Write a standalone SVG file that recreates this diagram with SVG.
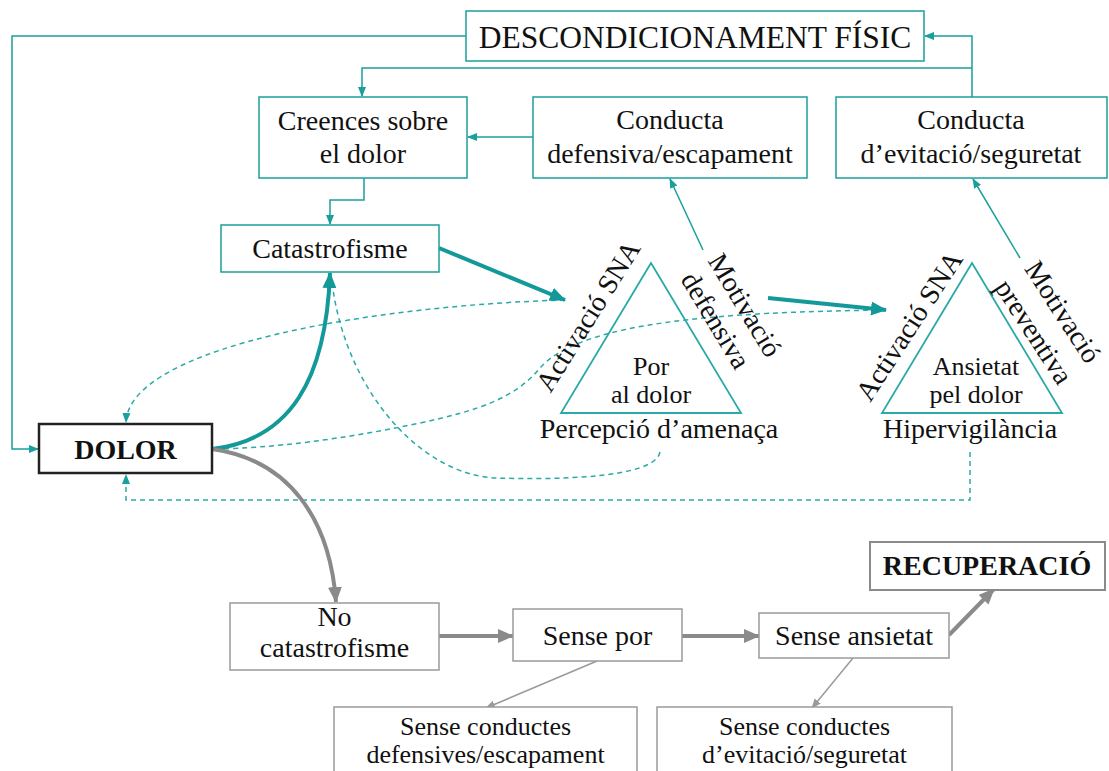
<svg xmlns="http://www.w3.org/2000/svg" width="1109" height="771" viewBox="0 0 1109 771">
<defs>
<style>
text{font-family:"Liberation Serif","Times New Roman",serif;font-size:28px;fill:#111;}
.c{text-anchor:middle;}
.b{font-weight:bold;}
.s{font-size:26px;}
.tbox{fill:#fff;stroke:#1aa09c;stroke-width:1.5;}
.gbox{fill:#fff;stroke:#9a9a9a;stroke-width:1.5;}
.tri{fill:none;stroke:#2aaaa6;stroke-width:1.8;}
.tl{fill:none;stroke:#1aa09c;stroke-width:1.5;}
.tk{fill:none;stroke:#13999a;stroke-width:4;}
.td{fill:none;stroke:#2aaaa6;stroke-width:1.5;stroke-dasharray:5 4;}
.gk{fill:none;stroke:#8a8a8a;stroke-width:4;}
.gl{fill:none;stroke:#9a9a9a;stroke-width:1.5;}
</style>
<marker id="ts" markerWidth="10" markerHeight="10" refX="9" refY="5" orient="auto" markerUnits="userSpaceOnUse"><path d="M0,1 L10,5 L0,9 z" fill="#1aa09c"/></marker>
<marker id="tb" markerWidth="16" markerHeight="14" refX="15" refY="7" orient="auto" markerUnits="userSpaceOnUse"><path d="M0,0 L16,7 L0,14 z" fill="#13999a"/></marker>
<marker id="gb" markerWidth="16" markerHeight="14" refX="15" refY="7" orient="auto" markerUnits="userSpaceOnUse"><path d="M0,0 L16,7 L0,14 z" fill="#8a8a8a"/></marker>
<marker id="gs" markerWidth="10" markerHeight="10" refX="9" refY="5" orient="auto" markerUnits="userSpaceOnUse"><path d="M0,1 L10,5 L0,9 z" fill="#9a9a9a"/></marker>
</defs>
<rect width="1109" height="771" fill="#fff"/>

<g id="connectors">
<path class="tl" d="M466,36 H12 V449 H38" marker-end="url(#ts)"/>
<path class="tl" d="M972,97 V36 H925" marker-end="url(#ts)"/>
<path class="tl" d="M972,68 H362 V96" marker-end="url(#ts)"/>
<path class="tl" d="M533,137 H468" marker-end="url(#ts)"/>
<path class="tl" d="M364,178 V200 H330 V224" marker-end="url(#ts)"/>
<path class="tl" d="M703,250 L670,179" marker-end="url(#ts)"/>
<path class="tl" d="M1020,258 L973,179" marker-end="url(#ts)"/>
<path class="td" d="M565,300 C380,305 130,345 126,422" marker-end="url(#ts)"/>
<path class="td" d="M886,310 C720,312 580,322 540,368 C515,398 480,410 420,423 C340,440 270,448 216,449" marker-end="url(#ts)"/>
<path class="td" d="M660,452 C655,478 560,480 495,478 C420,474 345,390 332,282"/>
<path class="td" d="M970,452 V500 H126 V475" marker-end="url(#ts)"/>
<path class="tk" d="M439,248 L565,300" marker-end="url(#tb)"/>
<path class="tk" d="M768,298 L886,310" marker-end="url(#tb)"/>
<path class="tk" d="M212,449 C290,440 326,380 330,273" marker-end="url(#tb)"/>
<path class="gk" d="M212,449 C290,460 330,520 336,602" marker-end="url(#gb)"/>
<path class="gk" d="M439,636 H513" marker-end="url(#gb)"/>
<path class="gk" d="M682,636 H759" marker-end="url(#gb)"/>
<path class="gk" d="M949,635 L994,589" marker-end="url(#gb)"/>
<path class="gl" d="M597,661 L486,708" marker-end="url(#gs)"/>
<path class="gl" d="M853,658 L812,708" marker-end="url(#gs)"/>
</g>

<g id="descondicionament">
<rect class="tbox" x="466" y="11" width="458" height="50"/>
<text class="c" x="695" y="48" style="font-size:31.5px">DESCONDICIONAMENT FÍSIC</text>
</g>
<g id="creences">
<rect class="tbox" x="259" y="97" width="208" height="81"/>
<text class="c" x="363" y="130">Creences sobre</text>
<text class="c" x="363" y="163">el dolor</text>
</g>
<g id="conducta-defensiva">
<rect class="tbox" x="533" y="97" width="274" height="81"/>
<text class="c" x="670" y="129">Conducta</text>
<text class="c" x="670" y="163">defensiva/escapament</text>
</g>
<g id="conducta-evitacio">
<rect class="tbox" x="836" y="97" width="271" height="81"/>
<text class="c" x="971" y="129">Conducta</text>
<text class="c" x="971" y="163">d’evitació/seguretat</text>
</g>
<g id="catastrofisme">
<rect class="tbox" x="221" y="225" width="218" height="47"/>
<text class="c" x="330" y="258">Catastrofisme</text>
</g>
<g id="dolor">
<rect x="39" y="424" width="173" height="49" fill="#fff" stroke="#222" stroke-width="2.5"/>
<text class="c b" x="125.5" y="459">DOLOR</text>
</g>
<g id="por">
<polygon class="tri" points="651,263 561,413 741,413"/>
<text class="c s" x="651" y="375">Por</text>
<text class="c s" x="651" y="403">al dolor</text>
<text class="c" x="659" y="438">Percepció d’amenaça</text>
<text class="c" transform="translate(596,321) rotate(-58)">Activació SNA</text>
<text class="c" transform="translate(737,310) rotate(59)"><tspan x="0" y="0">Motivació</tspan><tspan x="-2" y="33">defensiva</tspan></text>
</g>
<g id="ansietat">
<polygon class="tri" points="972,263 882,413 1062,413"/>
<text class="c s" x="976" y="375">Ansietat</text>
<text class="c s" x="976" y="403">pel dolor</text>
<text class="c" x="970" y="438">Hipervigilància</text>
<text class="c" transform="translate(917,331) rotate(-57)">Activació SNA</text>
<text class="c" transform="translate(1055,317) rotate(57)"><tspan x="0" y="0">Motivació</tspan><tspan x="1" y="35">preventiva</tspan></text>
</g>
<g id="no-catastrofisme">
<rect class="gbox" x="230" y="603" width="209" height="67"/>
<text class="c" x="334.5" y="626">No</text>
<text class="c" x="334.5" y="657">catastrofisme</text>
</g>
<g id="sense-por">
<rect class="gbox" x="513" y="609" width="169" height="52"/>
<text class="c" x="597.5" y="645">Sense por</text>
</g>
<g id="sense-ansietat">
<rect class="gbox" x="759" y="613" width="190" height="45"/>
<text class="c" x="854" y="645">Sense ansietat</text>
</g>
<g id="recuperacio">
<rect x="870" y="542" width="235" height="48" fill="#fff" stroke="#8a8a8a" stroke-width="2"/>
<text class="c b" x="987" y="575">RECUPERACIÓ</text>
</g>
<g id="sense-conductes-defensives">
<rect class="gbox" x="334" y="707" width="303" height="80"/>
<text class="c s" x="485.5" y="735">Sense conductes</text>
<text class="c s" x="485.5" y="763">defensives/escapament</text>
</g>
<g id="sense-conductes-evitacio">
<rect class="gbox" x="657" y="707" width="295" height="80"/>
<text class="c s" x="804.5" y="735">Sense conductes</text>
<text class="c s" x="804.5" y="763">d’evitació/seguretat</text>
</g>
</svg>
